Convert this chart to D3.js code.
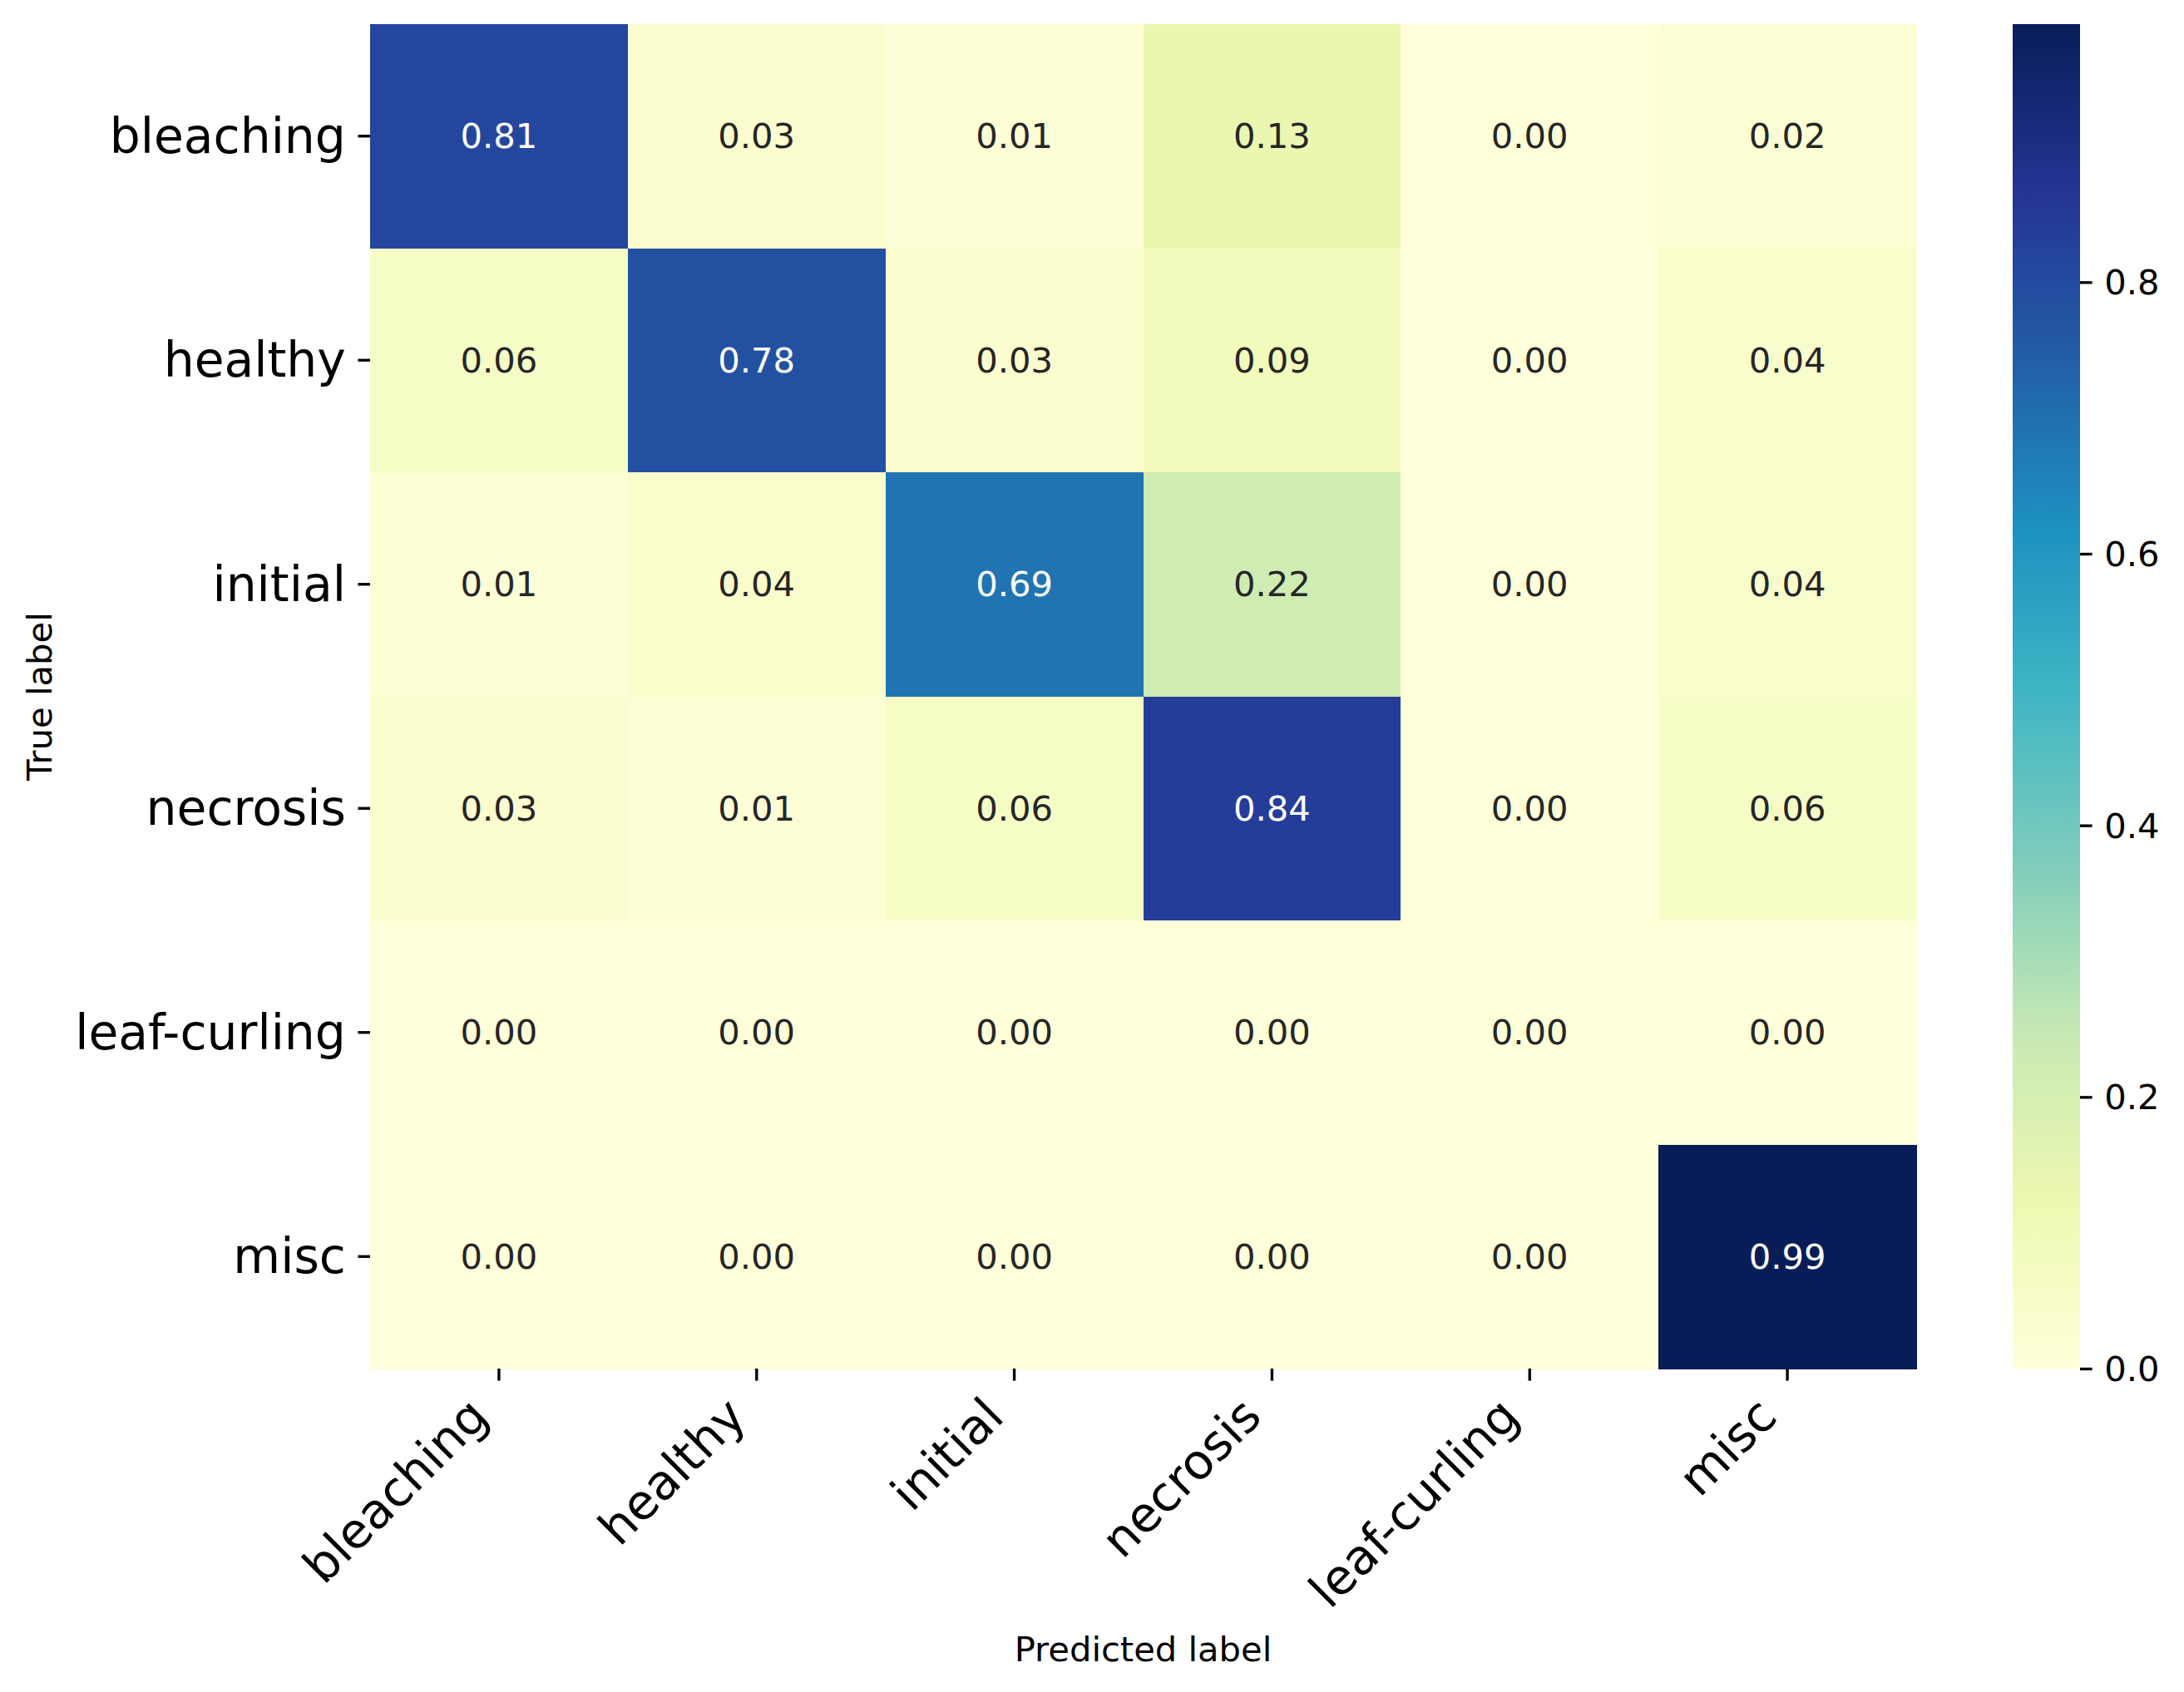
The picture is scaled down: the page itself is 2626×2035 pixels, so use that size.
<!DOCTYPE html>
<html>
<head>
<meta charset="utf-8">
<script src="https://cdn.jsdelivr.net/npm/d3@7"></script>
<style>
  body { margin: 0; background: #fff; }
  text { font-family: "DejaVu Sans", sans-serif; }
</style>
</head>
<body>
<div id="chart"></div>
<script>
// class names, rows = true label, columns = predicted label
const trueLabels = ["bleaching", "healthy", "initial", "necrosis", "leaf-curling", "misc"];
const predLabels = ["bleaching", "healthy", "initial", "necrosis", "leaf-curling", "misc"];

// confusion matrix rows (normalised)
const rowBleaching = [0.81, 0.03, 0.01, 0.13, 0.00, 0.02];
const rowHealthy = [0.06, 0.78, 0.03, 0.09, 0.00, 0.04];
const rowInitial = [0.01, 0.04, 0.69, 0.22, 0.00, 0.04];
const rowNecrosis = [0.03, 0.01, 0.06, 0.84, 0.00, 0.06];
const rowLeafCurling = [0.00, 0.00, 0.00, 0.00, 0.00, 0.00];
const rowMisc = [0.00, 0.00, 0.00, 0.00, 0.00, 0.99];

const colorbarTicks = [0.0, 0.2, 0.4, 0.6, 0.8];

// YlGnBu colorbrewer stops (matplotlib interpolates these linearly)
const ylGnBu = ["#ffffd9", "#edf8b1", "#c7e9b4", "#7fcdbb", "#41b6c4", "#1d91c0", "#225ea8", "#253494", "#081d58"];

const matrix = [rowBleaching, rowHealthy, rowInitial, rowNecrosis, rowLeafCurling, rowMisc];

const width = 2626;
const height = 2035;
const pt = 300 / 72; // figure was saved at 300 dpi

const plot = { left: 445, right: 2304, top: 29, bottom: 1646 };
const cbar = { left: 2420, right: 2501 };

const cells = [];
matrix.forEach((row, i) =>
  row.forEach((v, j) => cells.push({ t: trueLabels[i], p: predLabels[j], v: v }))
);

const vmax = d3.max(cells, (d) => d.v);

const svg = d3
  .select("#chart")
  .append("svg")
  .attr("width", width)
  .attr("height", height)
  .style("background", "#fff");

const x = d3.scaleBand().domain(predLabels).range([plot.left, plot.right]);
const y = d3.scaleBand().domain(trueLabels).range([plot.top, plot.bottom]);

const color = d3
  .scaleLinear()
  .domain(ylGnBu.map((c, i) => (i / (ylGnBu.length - 1)) * vmax))
  .range(ylGnBu)
  .clamp(true);

// heatmap cells
svg
  .append("g")
  .selectAll("rect")
  .data(cells)
  .enter()
  .append("rect")
  .attr("x", (d) => x(d.p))
  .attr("y", (d) => y(d.t))
  .attr("width", x.bandwidth() + 0.5)
  .attr("height", y.bandwidth() + 0.5)
  .attr("shape-rendering", "crispEdges")
  .style("fill", (d) => color(d.v));

// annotations, white on dark cells like seaborn does
const lum = (c) => {
  const rgb = d3.rgb(c);
  const f = (u) => {
    u = u / 255;
    return u <= 0.03928 ? u / 12.92 : Math.pow((u + 0.055) / 1.055, 2.4);
  };
  return 0.2126 * f(rgb.r) + 0.7152 * f(rgb.g) + 0.0722 * f(rgb.b);
};

svg
  .append("g")
  .selectAll("text")
  .data(cells)
  .enter()
  .append("text")
  .attr("x", (d) => x(d.p) + x.bandwidth() / 2)
  .attr("y", (d) => y(d.t) + y.bandwidth() / 2)
  .attr("text-anchor", "middle")
  .attr("dominant-baseline", "central")
  .style("font-size", 10 * pt + "px")
  .style("fill", (d) => (lum(color(d.v)) > 0.408 ? "#262626" : "#ffffff"))
  .text((d) => d.v.toFixed(2));

// y axis
const yAxis = svg
  .append("g")
  .attr("transform", `translate(${plot.left},0)`)
  .call(d3.axisLeft(y).tickSize(3.5 * pt).tickPadding(3.5 * pt));
yAxis.select(".domain").remove();
yAxis.selectAll(".tick line").attr("stroke", "#000").attr("stroke-width", 0.8 * pt);
yAxis
  .selectAll(".tick text")
  .attr("dy", null)
  .attr("dominant-baseline", "central")
  .style("font-family", "DejaVu Sans")
  .style("font-size", 14 * pt + "px")
  .style("fill", "#000");

// x axis, labels rotated 45 and right aligned like matplotlib
const xFont = 14 * pt;
const xAxis = svg
  .append("g")
  .attr("transform", `translate(0,${plot.bottom})`)
  .call(d3.axisBottom(x).tickSize(3.5 * pt).tickPadding(3.5 * pt));
xAxis.select(".domain").remove();
xAxis.selectAll(".tick line").attr("stroke", "#000").attr("stroke-width", 0.8 * pt);
const asc = 0.76 * xFont;
const desc = 0.24 * xFont;
xAxis
  .selectAll(".tick text")
  .attr("y", null)
  .attr("dy", null)
  .attr("text-anchor", "end")
  .attr("transform", `translate(${-0.707 * desc},${7 * pt + 0.707 * asc}) rotate(-45)`)
  .style("font-family", "DejaVu Sans")
  .style("font-size", xFont + "px")
  .style("fill", "#000");

// axis titles
svg
  .append("text")
  .attr("x", (plot.left + plot.right) / 2)
  .attr("y", 1998)
  .attr("text-anchor", "middle")
  .style("font-size", 10 * pt + "px")
  .text("Predicted label");

svg
  .append("text")
  .attr("transform", `translate(62,${(plot.top + plot.bottom) / 2}) rotate(-90)`)
  .attr("text-anchor", "middle")
  .style("font-size", 10 * pt + "px")
  .text("True label");

// colorbar
const cy = d3.scaleLinear().domain([0, vmax]).range([plot.bottom, plot.top]);

const grad = svg
  .append("defs")
  .append("linearGradient")
  .attr("id", "cbarGrad")
  .attr("x1", 0)
  .attr("y1", 1)
  .attr("x2", 0)
  .attr("y2", 0);
grad
  .selectAll("stop")
  .data(ylGnBu)
  .enter()
  .append("stop")
  .attr("offset", (d, i) => i / (ylGnBu.length - 1))
  .attr("stop-color", (d) => d);

svg
  .append("rect")
  .attr("x", cbar.left)
  .attr("y", cy(vmax))
  .attr("width", cbar.right - cbar.left)
  .attr("height", cy(0) - cy(vmax))
  .style("fill", "url(#cbarGrad)");

const cAxis = svg
  .append("g")
  .attr("transform", `translate(${cbar.right},0)`)
  .call(
    d3
      .axisRight(cy)
      .tickValues(colorbarTicks)
      .tickFormat(d3.format(".1f"))
      .tickSize(3.5 * pt)
      .tickPadding(3.5 * pt)
  );
cAxis.select(".domain").remove();
cAxis.selectAll(".tick line").attr("stroke", "#000").attr("stroke-width", 0.8 * pt);
cAxis
  .selectAll(".tick text")
  .attr("dy", null)
  .attr("dominant-baseline", "central")
  .style("font-family", "DejaVu Sans")
  .style("font-size", 10 * pt + "px")
  .style("fill", "#000");
</script>
</body>
</html>
